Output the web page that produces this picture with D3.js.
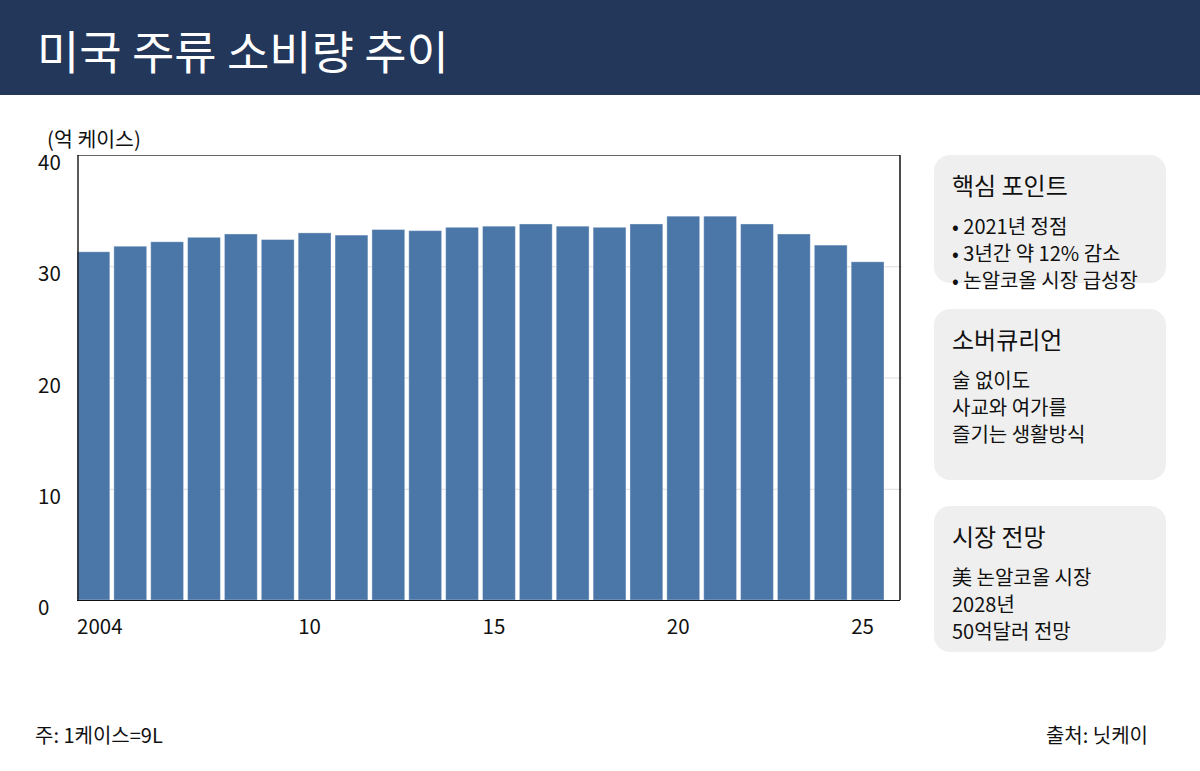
<!DOCTYPE html>
<html>
<head>
<meta charset="utf-8">
<style>
  body, html { margin: 0; padding: 0; background: #fff; }
  svg { display: block; font-family: "Noto Sans CJK KR", "Noto Sans", sans-serif; }
</style>
</head>
<body>
<svg width="1200" height="771"></svg>
<script src="https://d3js.org/d3.v7.min.js"></script>
<script>
// data
var years = [2004, 2005, 2006, 2007, 2008, 2009, 2010, 2011, 2012, 2013, 2014,
             2015, 2016, 2017, 2018, 2019, 2020, 2021, 2022, 2023, 2024, 2025];
var cases = [31.3, 31.8, 32.2, 32.6, 32.9, 32.4, 33.0, 32.8, 33.3, 33.2, 33.5,
             33.6, 33.8, 33.6, 33.5, 33.8, 34.5, 34.5, 33.8, 32.9, 31.9, 30.4];
var yTicks = [0, 10, 20, 30, 40];
var xTickYears = [2004, 2010, 2015, 2020, 2025];
var xTickLabels = ["2004", "10", "15", "20", "25"];

var cardTitles = ["핵심 포인트", "소버큐리언", "시장 전망"];
var cardLines = [
  ["• 2021년 정점", "• 3년간 약 12% 감소", "• 논알코올 시장 급성장"],
  ["술 없이도", "사교와 여가를", "즐기는 생활방식"],
  ["美 논알코올 시장", "2028년", "50억달러 전망"]
];
var cardBoxes = [[155, 128], [309, 171], [506, 146]]; // top, height

var svg = d3.select("svg");

// header
svg.append("rect").attr("x", 0).attr("y", 0).attr("width", 1200).attr("height", 95).attr("fill", "#23375a");
svg.append("text").attr("x", 37).attr("y", 69)
  .attr("fill", "#fff").attr("font-size", 46)
  .text("미국 주류 소비량 추이");

// chart
var pLeft = 77, pRight = 900, pTop = 155, pBottom = 600;

var x = d3.scaleBand().domain(years).range([pLeft, 884]).paddingInner(0.11).paddingOuter(0).align(0);
var y = d3.scaleLinear().domain([0, 40]).range([pBottom, pTop]);

// gridlines
svg.append("g").selectAll("line").data(yTicks.filter(d => d > 0 && d < 40)).join("line")
  .attr("x1", pLeft).attr("x2", pRight + 2)
  .attr("y1", d => y(d) + 0.5).attr("y2", d => y(d) + 0.5)
  .attr("stroke", "#dcdcdc").attr("stroke-width", 1);

// bars
svg.append("g").selectAll("rect").data(years).join("rect")
  .attr("x", d => x(d))
  .attr("y", (d, i) => y(cases[i]))
  .attr("width", x.bandwidth())
  .attr("height", (d, i) => y(0) - y(cases[i]))
  .attr("fill", "#4a76a8")
  .attr("stroke", "rgba(255,255,255,0.35)").attr("stroke-width", 1);

// frame
svg.append("line").attr("x1", pLeft).attr("x2", pRight).attr("y1", pTop + 0.5).attr("y2", pTop + 0.5).attr("stroke", "#666");
svg.append("line").attr("x1", pLeft + 1).attr("x2", pLeft + 1).attr("y1", pTop).attr("y2", pBottom).attr("stroke", "#222").attr("stroke-width", 1.5);
svg.append("line").attr("x1", pRight).attr("x2", pRight).attr("y1", pTop).attr("y2", pBottom).attr("stroke", "#111").attr("stroke-width", 1.5);
svg.append("line").attr("x1", pLeft).attr("x2", pRight).attr("y1", pBottom + 0.5).attr("y2", pBottom + 0.5).attr("stroke", "#111");

// y labels
svg.append("g").selectAll("text").data(yTicks).join("text")
  .attr("x", 38).attr("y", d => y(d) + 15)
  .attr("font-size", 20.5).attr("fill", "#111")
  .text(d => d);

svg.append("text").attr("x", 47).attr("y", 147).attr("font-size", 20.5).attr("fill", "#111").text("(억 케이스)");

// x labels
svg.append("g").selectAll("text").data(xTickYears).join("text")
  .attr("x", d => x(d)).attr("y", 634)
  .attr("font-size", 20.5).attr("fill", "#111")
  .text((d, i) => xTickLabels[i]);

// side cards
cardTitles.forEach(function(title, k) {
  var cTop = cardBoxes[k][0], cH = cardBoxes[k][1];
  var g = svg.append("g");
  g.append("rect")
    .attr("x", 934).attr("y", cTop).attr("width", 232).attr("height", cH)
    .attr("rx", 16).attr("fill", "#efefef");
  g.append("text")
    .attr("x", 952).attr("y", cTop + 40)
    .attr("font-size", 24).attr("fill", "#111")
    .text(title);
  g.selectAll("text.line").data(cardLines[k]).join("text")
    .attr("class", "line")
    .attr("x", 952).attr("y", (t, i) => cTop + 79 + i * 27)
    .attr("font-size", 20).attr("fill", "#111")
    .text(t => t);
});

// footer
svg.append("text").attr("x", 35).attr("y", 743).attr("font-size", 20).attr("fill", "#111").text("주: 1케이스=9L");
svg.append("text").attr("x", 1148).attr("y", 743).attr("text-anchor", "end").attr("font-size", 20).attr("fill", "#111").text("출처: 닛케이");
</script>
</body>
</html>
